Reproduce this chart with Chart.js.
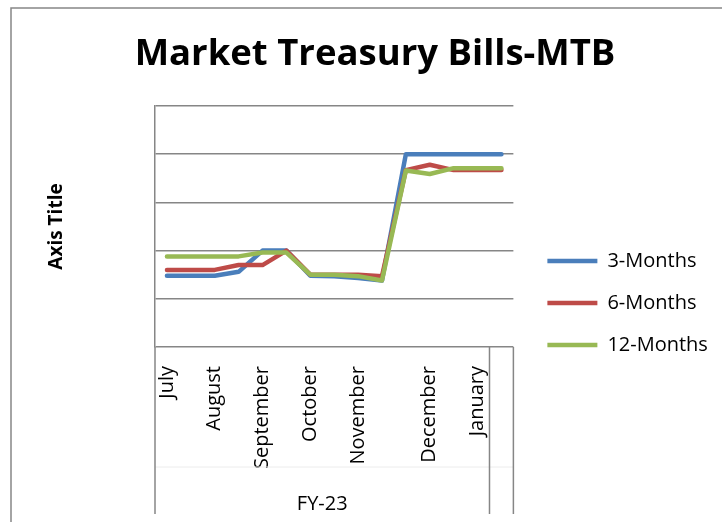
<!DOCTYPE html>
<html>
<head>
<meta charset="utf-8">
<script src="https://cdn.jsdelivr.net/npm/chart.js@4.4.1/dist/chart.umd.min.js"></script>
<style>
  html, body { margin: 0; padding: 0; background: #fff; }
  .chart-wrap { width: 722px; height: 522px; position: relative; }
</style>
</head>
<body>
<div class="chart-wrap"><canvas id="mtb-chart"></canvas></div>
<script>
// auction rows, only some carry a month name
const months = ['July', '', 'August', '', 'September', '', 'October', '', 'November', '', '', 'December', '', 'January', '']
const groupLabels = ['FY-23', '']
const groupSizes = [14, 1]

const threeMonths = [14.48, 14.48, 14.48, 14.56, 15.0, 15.0, 14.48, 14.47, 14.43, 14.38, 17.0, 17.0, 17.0, 17.0, 17.0]
const sixMonths = [14.6, 14.6, 14.6, 14.7, 14.7, 15.0, 14.5, 14.5, 14.5, 14.47, 16.67, 16.78, 16.67, 16.67, 16.67]
const twelveMonths = [14.88, 14.88, 14.88, 14.88, 14.96, 14.96, 14.5, 14.5, 14.47, 14.38, 16.66, 16.59, 16.71, 16.71, 16.71]

const gridGrey = '#868686'
const fontFamily = '"Open Sans", "Noto Sans", sans-serif'


/**
 * white page and the outer frame of the chart object
 */
const frame = {
    id: 'frame',
    beforeDraw(chart) {
        const {ctx, width, height} = chart
        ctx.save()
        ctx.fillStyle = '#fff'
        ctx.fillRect(0, 0, width, height)
        ctx.strokeStyle = gridGrey
        ctx.lineWidth = 1.5
        ctx.strokeRect(11, 8, width + 50, height + 50)
        ctx.restore()
    }
}

/**
 * second row of the category axis (FY groups)
 */
const groupAxis = {
    id: 'groupAxis',
    afterDraw(chart) {
        const {ctx, chartArea} = chart
        const x = chart.scales.x
        const bottom = x.bottom - 8
        const rowLine = x.top + 120

        // pixel edges of each group, from the category scale
        const step = x.getPixelForValue(1) - x.getPixelForValue(0)
        const edges = [chartArea.left]
        let idx = 0
        groupSizes.forEach(size => {
            idx += size
            edges.push(x.getPixelForValue(idx - 1) + step / 2)
        })

        ctx.save()
        ctx.strokeStyle = '#ececec'
        ctx.lineWidth = 1
        ctx.beginPath()
        ctx.moveTo(chartArea.left, rowLine)
        ctx.lineTo(chartArea.right, rowLine)
        ctx.stroke()

        ctx.strokeStyle = gridGrey
        ctx.lineWidth = 1.5
        edges.forEach(px => {
            ctx.beginPath()
            ctx.moveTo(px, x.top)
            ctx.lineTo(px, bottom)
            ctx.stroke()
        })

        ctx.fillStyle = '#000'
        ctx.font = '20px ' + fontFamily
        ctx.textAlign = 'center'
        ctx.textBaseline = 'middle'
        groupLabels.forEach((label, i) => {
            ctx.fillText(label, (edges[i] + edges[i + 1]) / 2, x.top + 157)
        })
        ctx.restore()
    }
}


function series(label, data, color, order) {
    return {
        label: label,
        data: data,
        borderColor: color,
        backgroundColor: color,
        borderWidth: 4.5,
        borderCapStyle: 'round',
        borderJoinStyle: 'round',
        pointRadius: 0,
        pointHoverRadius: 0,
        tension: 0,
        order: order,
    }
}

new Chart(document.getElementById('mtb-chart'), {
    type: 'line',
    data: {
        labels: months,
        datasets: [
            series('3-Months', threeMonths, '#4A7EBB', 2),
            series('6-Months', sixMonths, '#BE4B48', 1),
            series('12-Months', twelveMonths, '#98B954', 0),
        ]
    },
    plugins: [frame, groupAxis],
    options: {
        responsive: true,
        maintainAspectRatio: false,
        animation: false,
        layout: {padding: {left: 32.1, right: 4.1, top: 0, bottom: 0}},
        plugins: {
            title: {
                display: true,
                text: 'Market Treasury Bills-MTB',
                color: '#000',
                font: {family: fontFamily, size: 36.5, weight: 'bold'},
                padding: {top: 32.9, bottom: 29.3},
            },
            legend: {
                position: 'right',
                align: 'center',
                maxWidth: 300,
                title: {display: true, text: ' ', font: {size: 10}, padding: {top: 0, bottom: 72}},
                labels: {
                    usePointStyle: true,
                    pointStyle: 'line',
                    pointStyleWidth: 50,
                    padding: 22,
                    color: '#000',
                    font: {family: fontFamily, size: 20},
                    sort: (a, b) => a.datasetIndex - b.datasetIndex,
                },
            },
            tooltip: {enabled: false},
        },
        scales: {
            x: {
                type: 'category',
                offset: true,
                grid: {display: false},
                border: {display: false},
                ticks: {
                    autoSkip: false,
                    minRotation: 90,
                    maxRotation: 90,
                    padding: 11,
                    color: '#000',
                    font: {family: fontFamily, size: 20},
                },
                afterFit(scale) {
                    scale.height = 175
                },
            },
            y: {
                min: 13,
                max: 18,
                ticks: {display: false, stepSize: 1},
                grid: {color: gridGrey, lineWidth: 1.5, drawTicks: false},
                border: {color: gridGrey, width: 1.5},
                title: {
                    display: true,
                    text: 'Axis Title',
                    color: '#000',
                    font: {family: fontFamily, size: 19, weight: 'bold'},
                    padding: {top: 13.5, bottom: 0},
                },
                afterFit(scale) {
                    scale.width = 122.9
                },
            },
            // empty gap between plot and legend
            gap: {
                type: 'linear',
                position: 'right',
                ticks: {display: false},
                grid: {display: false},
                border: {display: false},
                afterFit(scale) {
                    scale.width = 12
                },
            },
        },
    }
})
</script>
</body>
</html>
